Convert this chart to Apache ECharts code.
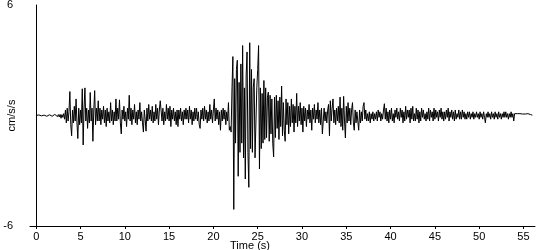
<!DOCTYPE html>
<html>
<head>
<meta charset="utf-8">
<script src="https://cdn.jsdelivr.net/npm/echarts@6/dist/echarts.min.js"></script>
<style>html,body{margin:0;padding:0;background:#fff}#c{width:550px;height:250px}</style>
</head>
<body>
<div id="c"></div>
<script>
// sample interval of the record (s)
const dt = 0.1;
// acceleration values (cm/s/s), 10 samples per second
const acc0to9 = [
  0, 0.02, -0.02, 0.03, -0.03, 0.02, -0.02, 0.04, -0.03, 0.02,
  -0.03, 0.04, -0.04, 0.03, -0.05, 0.04, -0.03, 0.05, -0.04, 0.03,
  -0.05, 0.06, -0.04, 0.05, -0.06, 0.05, -0.08, 0.06, -0.15, 0.05,
  -0.1, 0.1, -0.2, 0.3, -0.4, 0.4, -0.3, 0.2, 1.3, -0.5,
  -1.1, 0.3, -0.4, 0.5, -0.3, 0.9, -0.4, -1.25, 0.4, -0.5,
  0.3, -0.4, 1.45, -1.6, 0.4, 1.5, -0.3, 0.4, -0.7, 0.3,
  -0.4, 1.25, -0.3, 0.4, -1.4, 0.3, 1.35, -0.5, 0.4, -0.3,
  0.8, -0.3, 0.4, -0.5, 0.3, -0.2, 0.5, -0.4, 0.3, -0.6,
  0.4, -0.3, 0.2, -0.4, 0.7, -0.3, 0.3, -0.5, 0.2, -0.3,
  0.9, -0.3, 0.4, -0.2, 0.85, -0.4, -1.0, 0.3, -0.2, 0.5
];
const acc10to19 = [
  -0.3, 0.2, -0.6, 0.4, -0.2, 1.1, -0.3, 0.4, -0.5, 0.3,
  -0.2, 0.6, -0.4, 0.2, -0.5, 0.3, -0.2, 0.7, -0.3, 0.2,
  -0.4, -0.9, 0.3, -0.2, -0.85, 0.4, -0.3, 0.6, -0.2, 0.3,
  -0.3, 0.5, -0.4, 0.2, -0.3, 0.6, -0.2, 0.4, -0.5, 0.3,
  0.8, 0.85, -0.3, 0.4, -0.5, 0.2, -0.3, 0.6, -0.2, 0.4,
  -0.3, 0.5, -0.6, 0.3, -0.2, 0.4, -0.3, 0.2, -0.5, 0.3,
  -0.6, 0.3, -0.2, 0.4, -0.3, 0.2, -0.5, 0.3, -0.2, 0.4,
  -0.2, 0.3, -0.4, 0.5, -0.2, 0.3, -0.5, 0.2, -0.3, 0.4,
  -0.2, 0.4, -0.3, 0.2, -0.5, -0.7, 0.3, -0.2, 0.4, -0.3,
  0.5, -0.2, 0.3, -0.4, 0.2, -0.3, 0.6, -0.2, 0.3, -0.4
];
const acc20to29 = [
  0.3, 0.9, -0.3, 0.4, -0.2, 0.3, -0.5, 0.2, -0.8, 0.3,
  -0.3, 0.4, -0.2, 0.3, -0.5, 0.2, -0.3, 0.7, -0.8, -0.6,
  -0.9, 1.5, 3.2, -5.1, 2.0, -1.5, 2.5, 3.0, -3.3, 1.8,
  -2.0, 2.8, -1.5, 3.8, -2.3, 1.5, -3.45, 2.2, 3.45, -2.0,
  -3.9, 3.95, -1.8, 2.5, -2.0, 1.5, 2.0, -2.3, -2.3, 1.5,
  2.5, 3.8, -2.9, 1.5, -1.8, 1.2, -1.5, 1.9, -1.3, 1.5,
  -1.2, 1.0, 1.27, -1.4, 1.1, -1.0, 0.9, -1.5, -2.25, 1.0,
  -1.2, 1.1, -0.7, 0.8, -1.3, 1.0, -0.6, 1.6, -1.1, 0.7,
  -0.8, -1.4, 0.9, -0.5, 0.7, -1.0, 0.5, -0.6, 0.9, -0.4,
  0.6, -0.9, 0.5, -0.4, 1.2, -0.6, 0.5, -0.3, 0.7, -0.5
];
const acc30to39 = [
  0.4, -0.9, 0.5, -0.3, 0.4, -0.6, 0.3, -0.2, 0.6, -0.4,
  0.3, -0.8, 0.4, -0.2, 0.6, -0.4, 0.3, -0.2, 0.7, -0.4,
  0.3, -0.5, 0.4, -1.0, -1.1, 0.4, -0.3, 0.2, -0.4, 0.3,
  0.6, -1.1, 0.8, -0.3, 0.4, 0.9, -0.4, 0.3, -0.5, 0.4,
  -0.3, 0.5, -0.4, 1.0, -0.6, 0.4, -0.8, 1.04, -0.3, -1.22,
  0.5, -0.4, 0.7, -0.3, 0.4, -0.5, 0.3, 0.7, -0.4, -0.8,
  0.3, -0.4, 0.2, -0.3, -0.8, 0.3, -0.4, 0.2, -0.3, 0.5,
  0.7, -0.2, 0.3, -0.3, 0.1, -0.3, 0.2, -0.4, 0.1, -0.2,
  0.2, -0.3, 0.1, -0.2, 0.2, -0.3, 0.3, -0.1, 0.2, -0.3,
  0.1, -0.2, 0.3, 0.64, -0.2, 0.4, -0.3, 0.2, -0.4, 0.3
];
const acc40to49 = [
  -0.2, 0.4, -0.3, 0.1, -0.4, 0.3, -0.1, 0.4, -0.2, 0.2,
  -0.3, 0.4, -0.1, 0.3, -0.4, 0.2, -0.3, 0.5, -0.2, 0.3,
  -0.1, 0.3, -0.4, 0.4, -0.2, 0.5, -0.3, 0.1, -0.3, 0.4,
  -0.2, 0.3, -0.4, 0.2, -0.3, 0.4, -0.1, 0.3, -0.2, 0.1,
  -0.3, 0.2, -0.2, 0.4, -0.3, 0.3, -0.1, 0.2, -0.3, 0.4,
  -0.2, 0.3, -0.1, 0.2, -0.3, 0.3, -0.1, 0.4, -0.2, 0.2,
  -0.3, 0.2, -0.2, 0.3, -0.1, 0.4, -0.3, 0.2, -0.1, 0.3,
  -0.2, 0.2, -0.3, 0.3, -0.2, 0.1, -0.1, 0.3, -0.2, 0.2,
  -0.2, 0.3, -0.1, 0.2, -0.2, 0.1, -0.2, 0.2, -0.1, 0.2,
  -0.2, 0.1, -0.1, 0.2, -0.2, 0.1, -0.1, 0.2, -0.1, 0.1
];
const acc50to56 = [
  -0.2, 0.2, -0.1, 0.1, -0.2, 0.2, -0.1, -0.4, 0.1, -0.1,
  0.2, -0.1, 0.1, -0.2, 0.2, -0.1, 0.1, -0.2, 0.2, -0.1,
  0.1, -0.2, 0.2, -0.1, 0.1, -0.2, 0.1, -0.1, 0.2, -0.1,
  0.2, -0.1, 0.1, -0.2, 0.1, -0.1, 0.2, -0.1, 0.1, -0.3,
  0.1, 0.15, 0.05, 0.1, 0.12, 0.08, 0.1, 0.05, 0.1, 0.08,
  0.1, 0.12, 0.08, 0.1, 0.06, 0.1, 0.08, 0.1, 0.05, 0.03,
  0.02
];
const xTicks = [0, 5, 10, 15, 20, 25, 30, 35, 40, 45, 50, 55];
const yTicks = [-6, 6];

const acc = [].concat(acc0to9, acc10to19, acc20to29, acc30to39, acc40to49, acc50to56);
const points = acc.map((v, i) => [Math.round(i * dt * 10) / 10, v]);

const font = 'Liberation Sans, Arial, sans-serif';
const chart = echarts.init(document.getElementById('c'), null, {renderer: 'canvas'});
chart.setOption({
  animation: false,
  backgroundColor: '#fff',
  grid: {left: 30, right: 15, top: 5, bottom: 24, containLabel: false, outerBoundsMode: 'none'},
  xAxis: {
    type: 'value',
    min: -0.7,
    max: 56.3,
    name: 'Time (s)',
    nameLocation: 'middle',
    nameGap: 14,
    nameMoveOverlap: false,
    nameTextStyle: {color: '#000', fontFamily: font, fontSize: 11, padding: [0, 65, 0, 0]},
    axisLine: {show: true, onZero: false, lineStyle: {color: '#000', width: 1}},
    axisTick: {show: true, length: 3, customValues: xTicks, lineStyle: {color: '#000'}},
    axisLabel: {color: '#000', fontFamily: font, fontSize: 11, margin: 5, customValues: xTicks},
    splitLine: {show: false}
  },
  yAxis: {
    type: 'value',
    min: yTicks[0],
    max: yTicks[1],
    interval: 12,
    name: 'cm/s/s',
    nameLocation: 'middle',
    nameRotate: 90,
    nameGap: 13,
    nameMoveOverlap: false,
    nameTextStyle: {color: '#000', fontFamily: font, fontSize: 11},
    axisLine: {show: true, onZero: true, lineStyle: {color: '#000', width: 1}},
    axisTick: {show: false},
    axisLabel: {color: '#000', fontFamily: font, fontSize: 11, margin: 17},
    splitLine: {show: false}
  },
  series: [{
    type: 'line',
    data: points,
    showSymbol: false,
    symbol: 'none',
    sampling: null,
    lineStyle: {color: '#000', width: 1},
    silent: true
  }]
});
</script>
</body>
</html>
